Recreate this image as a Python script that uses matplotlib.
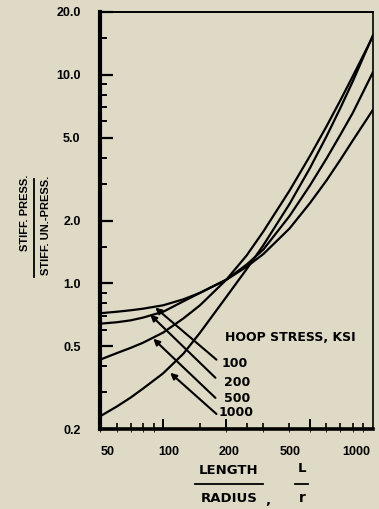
import matplotlib
matplotlib.use("Agg")
import matplotlib.pyplot as plt
from matplotlib.lines import Line2D

plt.rcParams['font.family'] = ['Liberation Sans', 'DejaVu Sans']
plt.rcParams['font.weight'] = 'bold'

# length / radius
lr = [50, 60, 70, 80, 100, 125, 150, 200, 250, 300, 400, 500, 600, 700, 800, 1000]

# stiffness ratio (pressurized / un-pressurized) per hoop stress
s100 = [0.718, 0.73, 0.742, 0.755, 0.784, 0.838, 0.9, 1.04, 1.2, 1.38, 1.83, 2.42, 3.11, 3.92, 4.83, 6.8]
s200 = [0.64, 0.65, 0.664, 0.684, 0.73, 0.82, 0.9, 1.04, 1.23, 1.45, 2.1, 2.94, 3.96, 5.17, 6.55, 10.3]
s500 = [0.43, 0.462, 0.49, 0.518, 0.58, 0.679, 0.785, 1.04, 1.36, 1.77, 2.78, 4.07, 5.65, 7.56, 9.82, 15.3]
s1000 = [0.23, 0.256, 0.283, 0.312, 0.37, 0.46, 0.58, 0.86, 1.17, 1.52, 2.4, 3.56, 5.06, 6.95, 9.27, 15.5]

curve_labels = ['100', '200', '500', '1000']
# arrow tips on curves, arrow tails, label spots (data coords)
tips = [(91.7, 0.764), (86.8, 0.707), (89.7, 0.542), (108, 0.372)]
tails = [(179.5, 0.43), (177.5, 0.352), (177.5, 0.282), (179.5, 0.236)]
label_xy = [(189.6, 0.41), (194, 0.333), (194, 0.279), (183.5, 0.239)]

yticks = [0.2, 0.5, 1.0, 2.0, 5.0, 10.0, 20.0]
ytick_labels = ['0.2', '0.5', '1.0', '2.0', '5.0', '10.0', '20.0']
yminor = [0.3, 0.4, 0.6, 0.7, 0.8, 0.9, 1.5, 3, 4, 6, 7, 8, 9, 15]
xmajor = [100, 200, 500]
xminor = [60, 70, 80, 90, 150, 250, 300, 400, 600, 700, 800, 900]
xlabel_pos = [54.6, 105.8, 205, 405, 830]
xtick_labels = ['50', '100', '200', '500', '1000']

bg = '#dedac6'
dj = 'DejaVu Sans'
fig = plt.figure(figsize=(3.79, 5.09), dpi=100, facecolor=bg)
ax = fig.add_axes([100/379, 1-429/509, 273/379, 417/509])
ax.set_facecolor(bg)

for s in [s100, s200, s500, s1000]:
    ax.plot(lr, s, color='black', lw=1.6, solid_capstyle='round', solid_joinstyle='round')

ax.set_xscale('log')
ax.set_yscale('log')
ax.set_xlim(50, 1000)
ax.set_ylim(0.2, 20)

ax.set_yticks(yticks, ytick_labels)
ax.set_yticks(yminor, minor=True)
ax.yaxis.set_minor_formatter(plt.NullFormatter())
ax.tick_params(axis='y', which='major', direction='in', length=9, width=1.6,
               labelsize=9, pad=14)
ax.tick_params(axis='y', which='minor', direction='in', length=5, width=1.4)

ax.set_xticks(xmajor, ['', '', ''])
ax.set_xticks(xminor, minor=True)
ax.xaxis.set_minor_formatter(plt.NullFormatter())
ax.tick_params(axis='x', which='major', direction='in', length=7, width=1.4)
ax.tick_params(axis='x', which='minor', direction='in', length=4, width=1.2)

sec = ax.secondary_xaxis('bottom')
sec.set_xticks(xlabel_pos, xtick_labels)
sec.tick_params(length=0, labelsize=9, pad=12)
sec.spines['bottom'].set_visible(False)

for side, w in [('left', 3.0), ('bottom', 2.6), ('top', 1.4), ('right', 1.2)]:
    ax.spines[side].set_linewidth(w)

for lab, tip, tail, pos in zip(curve_labels, tips, tails, label_xy):
    ax.annotate('', xy=tip, xytext=tail,
                arrowprops=dict(arrowstyle='-|>', color='black', lw=1.5,
                                mutation_scale=9, shrinkA=0, shrinkB=0))
    ax.text(pos[0], pos[1], lab, fontsize=9, va='center', ha='left', family=dj)

ax.text(198, 0.548, 'HOOP STRESS, KSI', fontsize=9, va='center', ha='left', family=dj)

# y-axis label as a fraction, rotated
H = 509
fig.text(25/379, 1-213/H, 'STIFF. PRESS.', rotation=90, fontsize=8,
         ha='center', va='center')
fig.text(46/379, 1-225/H, 'STIFF. UN.-PRESS.', rotation=90, fontsize=8,
         ha='center', va='center')
fig.add_artist(Line2D([34/379, 34/379], [1-179/H, 1-277/H], color='black', lw=1.3))

# x-axis label as a fraction
fig.text(229/379, 1-470/H, 'LENGTH', fontsize=9.5, ha='center', va='center', family=dj)
fig.text(229/379, 1-498/H, 'RADIUS', fontsize=9.5, ha='center', va='center', family=dj)
fig.add_artist(Line2D([195/379, 263/379], [1-484/H, 1-484/H], color='black', lw=1.3))
fig.text(268/379, 1-500/H, ',', fontsize=9.5, ha='center', va='center', family=dj)
fig.text(302/379, 1-469/H, 'L', fontsize=9.5, ha='center', va='center', family=dj)
fig.text(302/379, 1-498/H, 'r', fontsize=10, ha='center', va='center', family=dj)
fig.add_artist(Line2D([295/379, 308/379], [1-484/H, 1-484/H], color='black', lw=1.3))

fig.savefig('out.png', dpi=100, facecolor=bg)
